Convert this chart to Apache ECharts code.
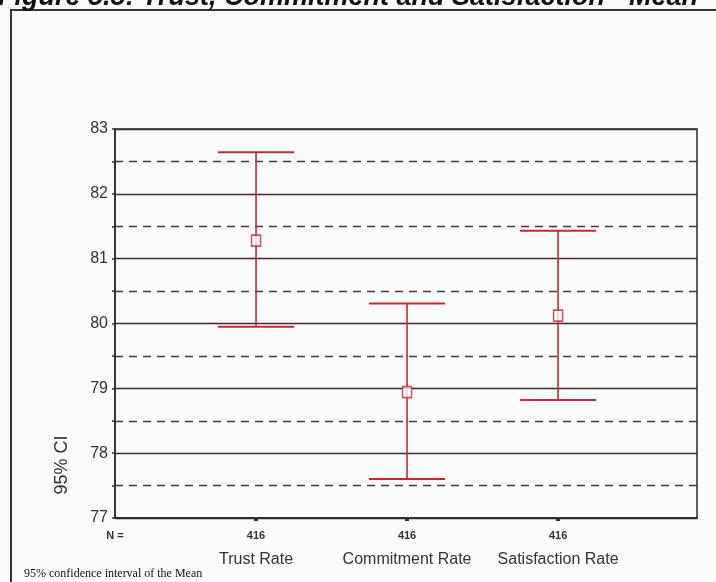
<!DOCTYPE html>
<html>
<head>
<meta charset="utf-8">
<script src="https://cdn.jsdelivr.net/npm/echarts@6/dist/echarts.min.js"></script>
<style>
html,body{margin:0;padding:0;background:#fbfbfb;}
#c{width:716px;height:582px;}
</style>
</head>
<body>
<div id="c"></div>
<script>
var categories = ['Trust Rate', 'Commitment Rate', 'Satisfaction Rate'];
var nValues = [416, 416, 416];
var means = [81.28, 78.94, 80.12];
var upper = [82.64, 80.31, 81.43];
var lower = [79.95, 77.60, 78.82];
var yTicks = [77, 78, 79, 80, 81, 82, 83];

var xMin = 0.066, xMax = 3.92;
var positions = categories.map(function (c, i) { return i + 1; });

var barData = categories.map(function (c, i) { return [positions[i], lower[i], upper[i]]; });
var meanData = categories.map(function (c, i) { return [positions[i], means[i]]; });

var red = '#c22a35';

var chart = echarts.init(document.getElementById('c'), null, {renderer: 'canvas'});
chart.setOption({
  backgroundColor: '#fbfbfb',
  animation: false,
  grid: {left: 115, right: 19, top: 129, bottom: 64, show: true, borderColor: '#2a2a2a', borderWidth: 1.5, backgroundColor: 'transparent'},
  xAxis: {
    type: 'value', min: xMin, max: xMax,
    splitLine: {show: false},
    axisLine: {show: true, onZero: false, lineStyle: {color: '#3a2228', width: 1.5}},
    axisTick: {show: true, customValues: positions, length: 3, inside: false, lineStyle: {color: '#333', width: 4}},
    axisLabel: {
      show: true,
      customValues: [xMin].concat(positions),
      margin: 8,
      formatter: function (v) {
        if (Math.abs(v - xMin) < 1e-6) return '{n|N =}\n{c| }';
        var i = Math.round(v) - 1;
        return '{n|' + nValues[i] + '}\n{c|' + categories[i] + '}';
      },
      rich: {
        n: {fontFamily: 'Liberation Sans, Arial', fontWeight: 'bold', fontSize: 11, color: '#333', lineHeight: 20, align: 'center'},
        c: {fontFamily: 'Liberation Sans, Arial', fontSize: 16, color: '#333', lineHeight: 28, align: 'center'}
      }
    }
  },
  yAxis: {
    type: 'value', min: 77, max: 83, interval: 1,
    axisLine: {show: true, lineStyle: {color: '#2a2a2a', width: 1.5}},
    axisTick: {show: true, length: 3, lineStyle: {color: '#333', width: 1.5}},
    minorTick: {show: true, splitNumber: 2, length: 3, lineStyle: {color: '#333', width: 1.5}},
    axisLabel: {fontFamily: 'Liberation Sans, Arial', fontSize: 16, color: '#333', margin: 7},
    splitLine: {show: true, lineStyle: {color: '#3b2a30', width: 1.3}},
    minorSplitLine: {show: true, lineStyle: {color: '#4a3438', width: 1.3, type: [8, 6]}}
  },
  series: [
    {
      type: 'custom',
      data: barData,
      encode: {x: 0, y: [1, 2]},
      renderItem: function (params, api) {
        var x = api.value(0);
        var lo = api.coord([x, api.value(1)]);
        var hi = api.coord([x, api.value(2)]);
        var half = 38;
        var st = {stroke: red, lineWidth: 1.6};
        return {
          type: 'group',
          children: [
            {type: 'line', shape: {x1: lo[0], y1: lo[1], x2: hi[0], y2: hi[1]}, style: st},
            {type: 'line', shape: {x1: hi[0] - half, y1: hi[1], x2: hi[0] + half, y2: hi[1]}, style: {stroke: red, lineWidth: 2}},
            {type: 'line', shape: {x1: lo[0] - half, y1: lo[1], x2: lo[0] + half, y2: lo[1]}, style: {stroke: red, lineWidth: 2}}
          ]
        };
      },
      z: 5
    },
    {
      type: 'scatter',
      data: meanData,
      symbol: 'rect',
      symbolSize: [9, 11],
      itemStyle: {color: '#fbfbfb', borderColor: red, borderWidth: 1.6},
      z: 6
    }
  ],
  graphic: [
    {type: 'rect', shape: {x: 11, y: 10, width: 720, height: 590}, style: {fill: 'none', stroke: '#333', lineWidth: 2}, silent: true},
    {type: 'text', x: -2, y: 11, style: {text: 'Figure 5.5: Trust, Commitment and Satisfaction - Mean', font: 'italic bold 27px "Liberation Sans", Arial', fill: '#111', verticalAlign: 'bottom'}},
    {type: 'text', x: 62, y: 465, rotation: Math.PI / 2, style: {text: '95% CI', font: '18px "Liberation Sans", Arial', fill: '#333', align: 'center', verticalAlign: 'middle'}},
    {type: 'text', x: 24, y: 574, style: {text: '95% confidence interval of the Mean', font: '12px "Liberation Serif", "Times New Roman", serif', fill: '#111', verticalAlign: 'middle'}}
  ]
});
</script>
</body>
</html>
